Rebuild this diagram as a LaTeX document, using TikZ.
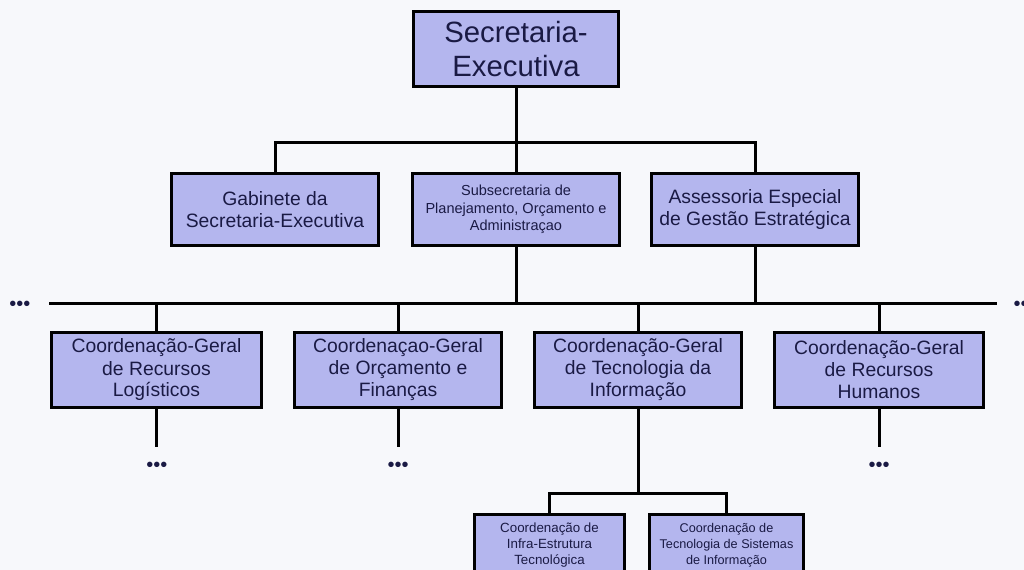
\documentclass[tikz,border=0pt]{standalone}
\usepackage{fontspec}
\setmainfont{Liberation Sans}
\definecolor{bg}{HTML}{F7F8FB}
\definecolor{boxfill}{HTML}{B4B6EE}
\definecolor{txt}{HTML}{1A1A44}
\begin{document}
\begin{tikzpicture}[x=0.75pt,y=-0.75pt,
  box/.style={draw=black, line width=2.25pt, fill=boxfill, text=txt, align=center, inner sep=0pt},
  conn/.style={draw=black, line width=2.25pt},
  dotmark/.style={text=txt, font=\fontsize{15}{15}\selectfont, inner sep=0pt},
  big/.style={font=\fontsize{22}{25}\selectfont},
  mid/.style={font=\fontsize{14.5}{16.5}\selectfont},
  small/.style={font=\fontsize{10.9}{13}\selectfont},
  tiny/.style={font=\fontsize{10}{12}\selectfont},
  tinier/.style={font=\fontsize{9.5}{12}\selectfont}]
\clip (0,0) rectangle (1024,570);
\fill[bg] (0,0) rectangle (1024,570);
% boxes
\node[box,big,minimum width=153.75pt,minimum height=56.25pt] (top) at (516,49) {Secretaria-\\Executiva};
\node[box,mid,minimum width=155.25pt,minimum height=54pt] (gab) at (275,209.5) {Gabinete da\\Secretaria-Executiva};
\node[box,small,minimum width=155.25pt,minimum height=54pt] (sub) at (516,209.5) {Subsecretaria de\\Planejamento, Orçamento e\\Administraçao};
\node[box,mid,minimum width=155.25pt,minimum height=54pt] (ase) at (755,209.5) {Assessoria Especial\\de Gestão Estratégica};
\node[box,mid,minimum width=157.5pt,minimum height=56.25pt] (cA) at (156.5,370) {Coordenação-Geral\\de Recursos\\Logísticos};
\node[box,mid,minimum width=155.25pt,minimum height=56.25pt] (cB) at (398,370) {Coordenaçao-Geral\\de Orçamento e\\Finanças};
\node[box,mid,minimum width=155.25pt,minimum height=56.25pt] (cC) at (638,370) {Coordenação-Geral\\de Tecnologia da\\Informação};
\node[box,mid,minimum width=156.75pt,minimum height=56.25pt] (cD) at (879,370) {Coordenação-Geral\\de Recursos\\Humanos};
\node[box,tiny,minimum width=112.5pt,minimum height=45.75pt] (b1) at (549.5,545) {Coordenação de\\Infra-Estrutura\\Tecnológica};
\node[box,tinier,minimum width=115.5pt,minimum height=45.75pt] (b2) at (726.5,545) {Coordenação de\\Tecnologia de Sistemas\\de Informação};
% connectors
\coordinate (j1) at (516,143);
\draw[conn] (top.south) -- (j1);
\draw[conn] (gab.north) |- (j1) -| (ase.north);
\draw[conn] (j1) -- (sub.north);
\coordinate (busL) at (49,303);
\coordinate (busR) at (997,303);
\draw[conn] (busL) -- (busR);
\draw[conn] (sub.south) -- (sub.south |- busL);
\draw[conn] (ase.south) -- (ase.south |- busL);
\foreach \c in {cA,cB,cC,cD} {\draw[conn] (\c.north) -- (\c.north |- busL);}
\coordinate (endrow) at (0,447);
\draw[conn] (cA.south) -- (cA.south |- endrow);
\draw[conn] (cB.south) -- (cB.south |- endrow);
\draw[conn] (cD.south) -- (cD.south |- endrow);
\coordinate (jC) at (638,493);
\draw[conn] (cC.south) -- (jC);
\draw[conn] (b1.north) |- (jC) -| (b2.north);
% dots
\node[dotmark] (dL) at (20,306) {•••};
\node[dotmark] (dR) at (1024,306) {•••};
\node[dotmark] (dA) at (157,467) {•••};
\node[dotmark] (dB) at (398,467) {•••};
\node[dotmark] (dD) at (879,467) {•••};
\end{tikzpicture}
\end{document}
